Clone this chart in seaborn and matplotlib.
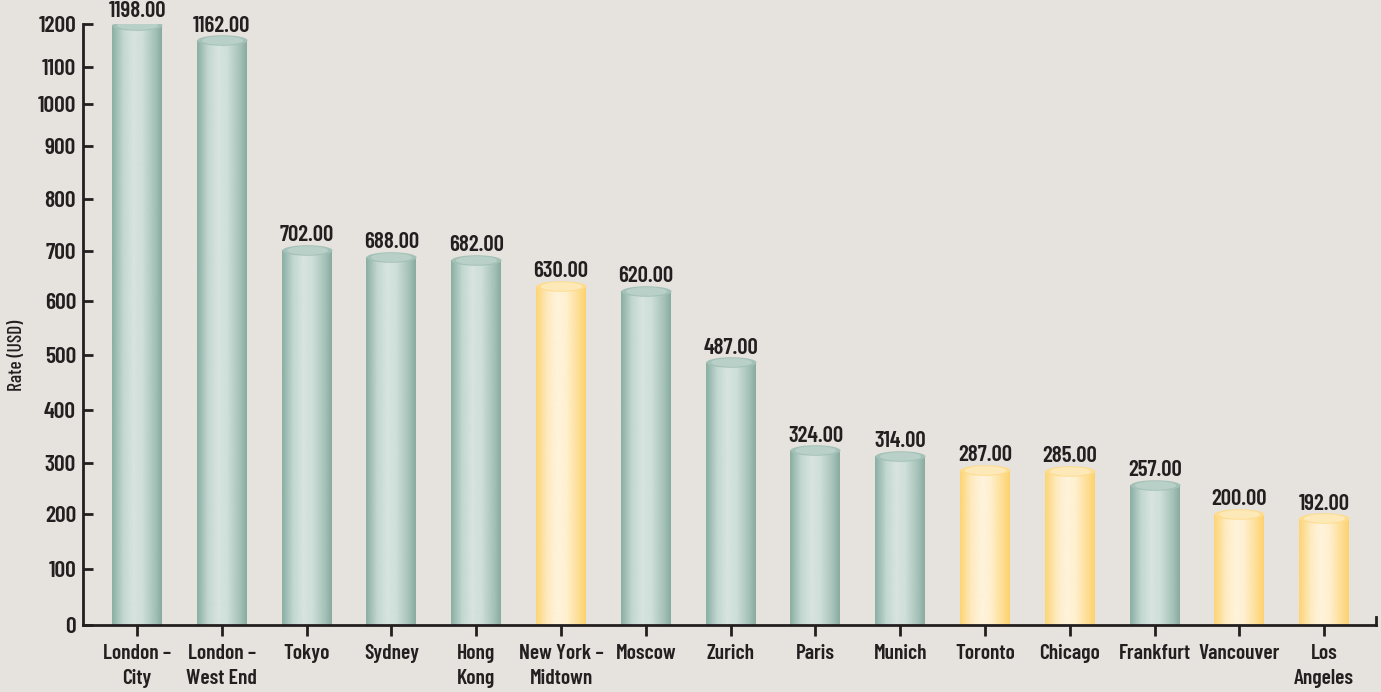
import numpy as np
import pandas as pd
import matplotlib
matplotlib.use("Agg")
import matplotlib.pyplot as plt
import seaborn as sns
from matplotlib import font_manager as fm
from matplotlib.colors import LinearSegmentedColormap
from matplotlib.path import Path
from matplotlib.scale import FuncScale

# ---------------- data ----------------
cities = ["London –\nCity", "London –\nWest End", "Tokyo", "Sydney", "Hong\nKong",
          "New York –\nMidtown", "Moscow", "Zurich", "Paris", "Munich", "Toronto",
          "Chicago", "Frankfurt", "Vancouver", "Los\nAngeles"]
rates = [1198, 1162, 702, 688, 682, 630, 620, 487, 324, 314, 287, 285, 257, 200, 192]
region = ["Other", "Other", "Other", "Other", "Other", "North America", "Other",
          "Other", "Other", "Other", "North America", "North America", "Other",
          "North America", "North America"]
y_ticks = [0, 100, 200, 300, 400, 500, 600, 700, 800, 900, 1000, 1100, 1200]
y_label = "Rate (USD)"

# axis layout (relative spacing of the ticks as drawn in the original)
tick_frac = np.array([0, 55.7, 111.3, 162, 214.7, 270, 324.3, 374.3, 426, 479.3,
                      521, 558.3, 601]) / 601.0

df = pd.DataFrame({"city": cities, "rate": rates, "region": region})

BG = "#e6e2dd"
INK = "#231f20"
available = {f.name for f in fm.fontManager.ttflist}
candidates = ["Barlow Condensed", "Roboto Condensed", "IBM Plex Sans Condensed",
              "Open Sans Condensed", "DejaVu Sans"]
main_font = next(c for c in candidates if c in available)
FONT = [main_font, "DejaVu Sans"]

sns.set_theme(style="white")
plt.rcParams["font.family"] = FONT

W, H, DPI = 1381, 692, 100
fig = plt.figure(figsize=(W / DPI, H / DPI), dpi=DPI, facecolor=BG)
ax = fig.add_axes([83 / W, (H - 625) / H, 1293 / W, 601 / H])
ax.set_facecolor(BG)

yv = np.array(y_ticks, dtype=float)
fwd = lambda v: np.interp(v, yv, tick_frac)
inv = lambda f: np.interp(f, tick_frac, yv)
ax.set_yscale(FuncScale(ax, (fwd, inv)))

palette = {"Other": "#a9c6bd", "North America": "#fde2a0"}
bar_w = 0.59
sns.barplot(data=df, x="city", y="rate", hue="region", palette=palette,
            dodge=False, width=bar_w, legend=False, ax=ax, saturation=1,
            order=cities)

XL = (-0.637, 14.61)
ax.set_xlim(*XL)
ax.set_ylim(0, 1200)
ax.set_yticks(y_ticks)
ax.set_yticklabels([str(t) for t in y_ticks])

grad_colors = {
    "Other": ["#8bb0a4", "#c4d8d2", "#d7e4e0", "#cfdfda", "#a5c2b8", "#86a99d"],
    "North America": ["#fdd577", "#feebc0", "#fff4dc", "#fff0d0", "#fedd91", "#fdd06a"],
}
top_colors = {"Other": "#a3c1b7", "North America": "#fddc8e"}
top_hi = {"Other": "#bcd2ca", "North America": "#feebbd"}
cmaps = {k: LinearSegmentedColormap.from_list(k, list(zip([0, 0.22, 0.42, 0.6, 0.85, 1], v)))
         for k, v in grad_colors.items()}
grad = np.linspace(0, 1, 256)[np.newaxis, :]

px_per_unit = 1293 / (XL[1] - XL[0])
bar_pt = bar_w * px_per_unit * 72 / DPI

t = np.linspace(0, 2 * np.pi, 90)
ell = Path(np.c_[0.5 * np.cos(t), 0.105 * np.sin(t)], closed=True)

for p in list(ax.patches):
    h = p.get_height()
    if h <= 0 or np.isnan(h):
        continue
    xc = p.get_x() + p.get_width() / 2
    i = int(round(xc))
    reg = region[i]
    p.set_edgecolor("none")
    im = ax.imshow(grad, extent=[p.get_x(), p.get_x() + p.get_width(), 0, h],
                   aspect="auto", cmap=cmaps[reg], zorder=p.get_zorder() + 0.1,
                   interpolation="bicubic")
    im.set_clip_path(p)
    ax.scatter([xc], [h], marker=ell, s=bar_pt ** 2, color=top_colors[reg],
               linewidths=0, zorder=5)
    ax.scatter([xc], [h], marker=ell, s=(bar_pt * 0.82) ** 2, color=top_hi[reg],
               linewidths=0, zorder=5.1, alpha=0.9)
    ax.annotate(f"{rates[i]:.2f}", (xc, h), xytext=(0, 6), textcoords="offset points",
                ha="center", va="baseline", fontsize=16.5, color=INK,
                fontweight="semibold", family=FONT, zorder=6, annotation_clip=False)

ax.set_xlim(*XL)
ax.set_ylim(0, 1200)

ax.spines["top"].set_visible(False)
for s in ["left", "bottom", "right"]:
    ax.spines[s].set_color(INK)
    ax.spines[s].set_linewidth(2.0)
ax.spines["right"].set_bounds(0, 14)

ax.tick_params(axis="y", direction="in", length=7, width=2, color=INK, pad=5,
               labelsize=17, labelcolor=INK, left=True)
ax.tick_params(axis="x", direction="out", length=8, width=2, color=INK, pad=6,
               labelsize=15.5, labelcolor=INK, bottom=True)
for lab in ax.get_xticklabels() + ax.get_yticklabels():
    lab.set_fontweight("semibold")
    lab.set_family(FONT)
for lab in ax.get_xticklabels():
    lab.set_linespacing(1.4)
ax.set_xlabel("")
ax.set_ylabel(y_label, fontsize=14, color=INK, family=FONT, fontweight="medium")
ax.yaxis.set_label_coords(-57 / 1293, (625 - 355) / 601)

fig.savefig("out.png", dpi=DPI, facecolor=BG)
